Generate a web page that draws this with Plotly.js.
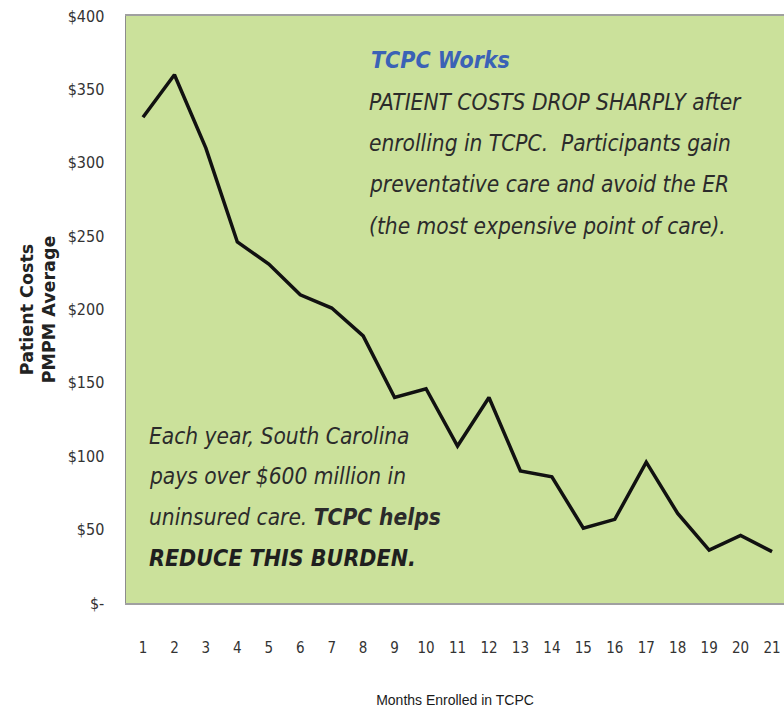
<!DOCTYPE html>
<html>
<head>
<meta charset="utf-8">
<script src="https://cdn.plot.ly/plotly-3.0.1.min.js"></script>
<style>html,body{margin:0;padding:0;background:#fff;overflow:hidden;}#chart{width:784px;height:712px;}</style>
</head>
<body>
<div id="chart"></div>
<script>
var months = [1,2,3,4,5,6,7,8,9,10,11,12,13,14,15,16,17,18,19,20,21];
var costs = [331,360,310,246,231,210,201,182,140,146,107,140,90,86,51,57,96,61,36,46,35];
var yTickVals = [0,50,100,150,200,250,300,350,400];
var yTickText = ['$-','$50','$100','$150','$200','$250','$300','$350','$400'];
var xTickText = months.map(String);

var W = 784, H = 712, L = 126, R = 0, T = 16, B = 109;
function px(x){ return (x - L) / (W - L - R); }
function py(y){ return (H - B - y) / (H - T - B); }

var narrow = 'DejaVu Sans Condensed, DejaVu Sans, sans-serif';
var body = 'DejaVu Sans Condensed, DejaVu Sans, sans-serif';

function note(text, x, y, opts){
  opts = opts || {};
  return {
    text: text, xref: 'paper', yref: 'paper', x: px(x), y: py(y),
    xanchor: 'left', yanchor: 'middle', showarrow: false, align: 'left',
    font: {family: body, size: opts.size || 22.5, color: opts.color || '#2b2b2b', style: 'italic', weight: opts.weight || 'normal'}
  };
}

var annotations = [
  note('TCPC Works', 369, 60, {size: 23, color: '#3b62b6', weight: 'bold'}),
  note('PATIENT COSTS DROP SHARPLY after', 367, 102),
  note('enrolling in TCPC.  Participants gain', 367, 143),
  note('preventative care and avoid the ER', 367, 184),
  note('(the most expensive point of care).', 367, 226),
  note('Each year, South Carolina', 147, 436),
  note('pays over $600 million in', 147, 476),
  note('uninsured care. <b>TCPC helps</b>', 147, 517),
  note('REDUCE THIS BURDEN.', 147, 558, {size: 23, weight: 'bold', color: '#1f1f1f'})
];

var trace = {
  x: months, y: costs, type: 'scatter', mode: 'lines',
  line: {color: '#111111', width: 3.5},
  hoverinfo: 'skip'
};

var layout = {
  width: W, height: H,
  margin: {l: L, r: R, t: T, b: B, pad: 0},
  paper_bgcolor: '#ffffff',
  plot_bgcolor: '#cbe19b',
  showlegend: false,
  xaxis: {
    range: [0.46, 21.38],
    tickvals: months, ticktext: xTickText,
    showgrid: false, zeroline: false,
    showline: true, linecolor: '#a0a0a0', linewidth: 2, mirror: true,
    ticks: '', ticklabelstandoff: 30,
    tickfont: {family: narrow, size: 15, color: '#333333'},
    title: {text: 'Months Enrolled in TCPC', font: {family: 'Liberation Sans, Arial, sans-serif', size: 14, color: '#1a1a1a'}, standoff: 39}
  },
  yaxis: {
    range: [0, 400],
    tickvals: yTickVals, ticktext: yTickText,
    showgrid: false, zeroline: false,
    showline: true, linecolor: '#8c8c8c', linewidth: 1.5, mirror: true,
    ticks: '', ticklabelstandoff: 17,
    tickfont: {family: narrow, size: 16, color: '#333333'},
    title: {text: '<b>Patient Costs<br>PMPM Average</b>', font: {family: 'DejaVu Sans, sans-serif', size: 17.5, color: '#222222'}, standoff: 7}
  },
  annotations: annotations
};

Plotly.newPlot('chart', [trace], layout, {displayModeBar: false, staticPlot: true});
</script>
</body>
</html>
